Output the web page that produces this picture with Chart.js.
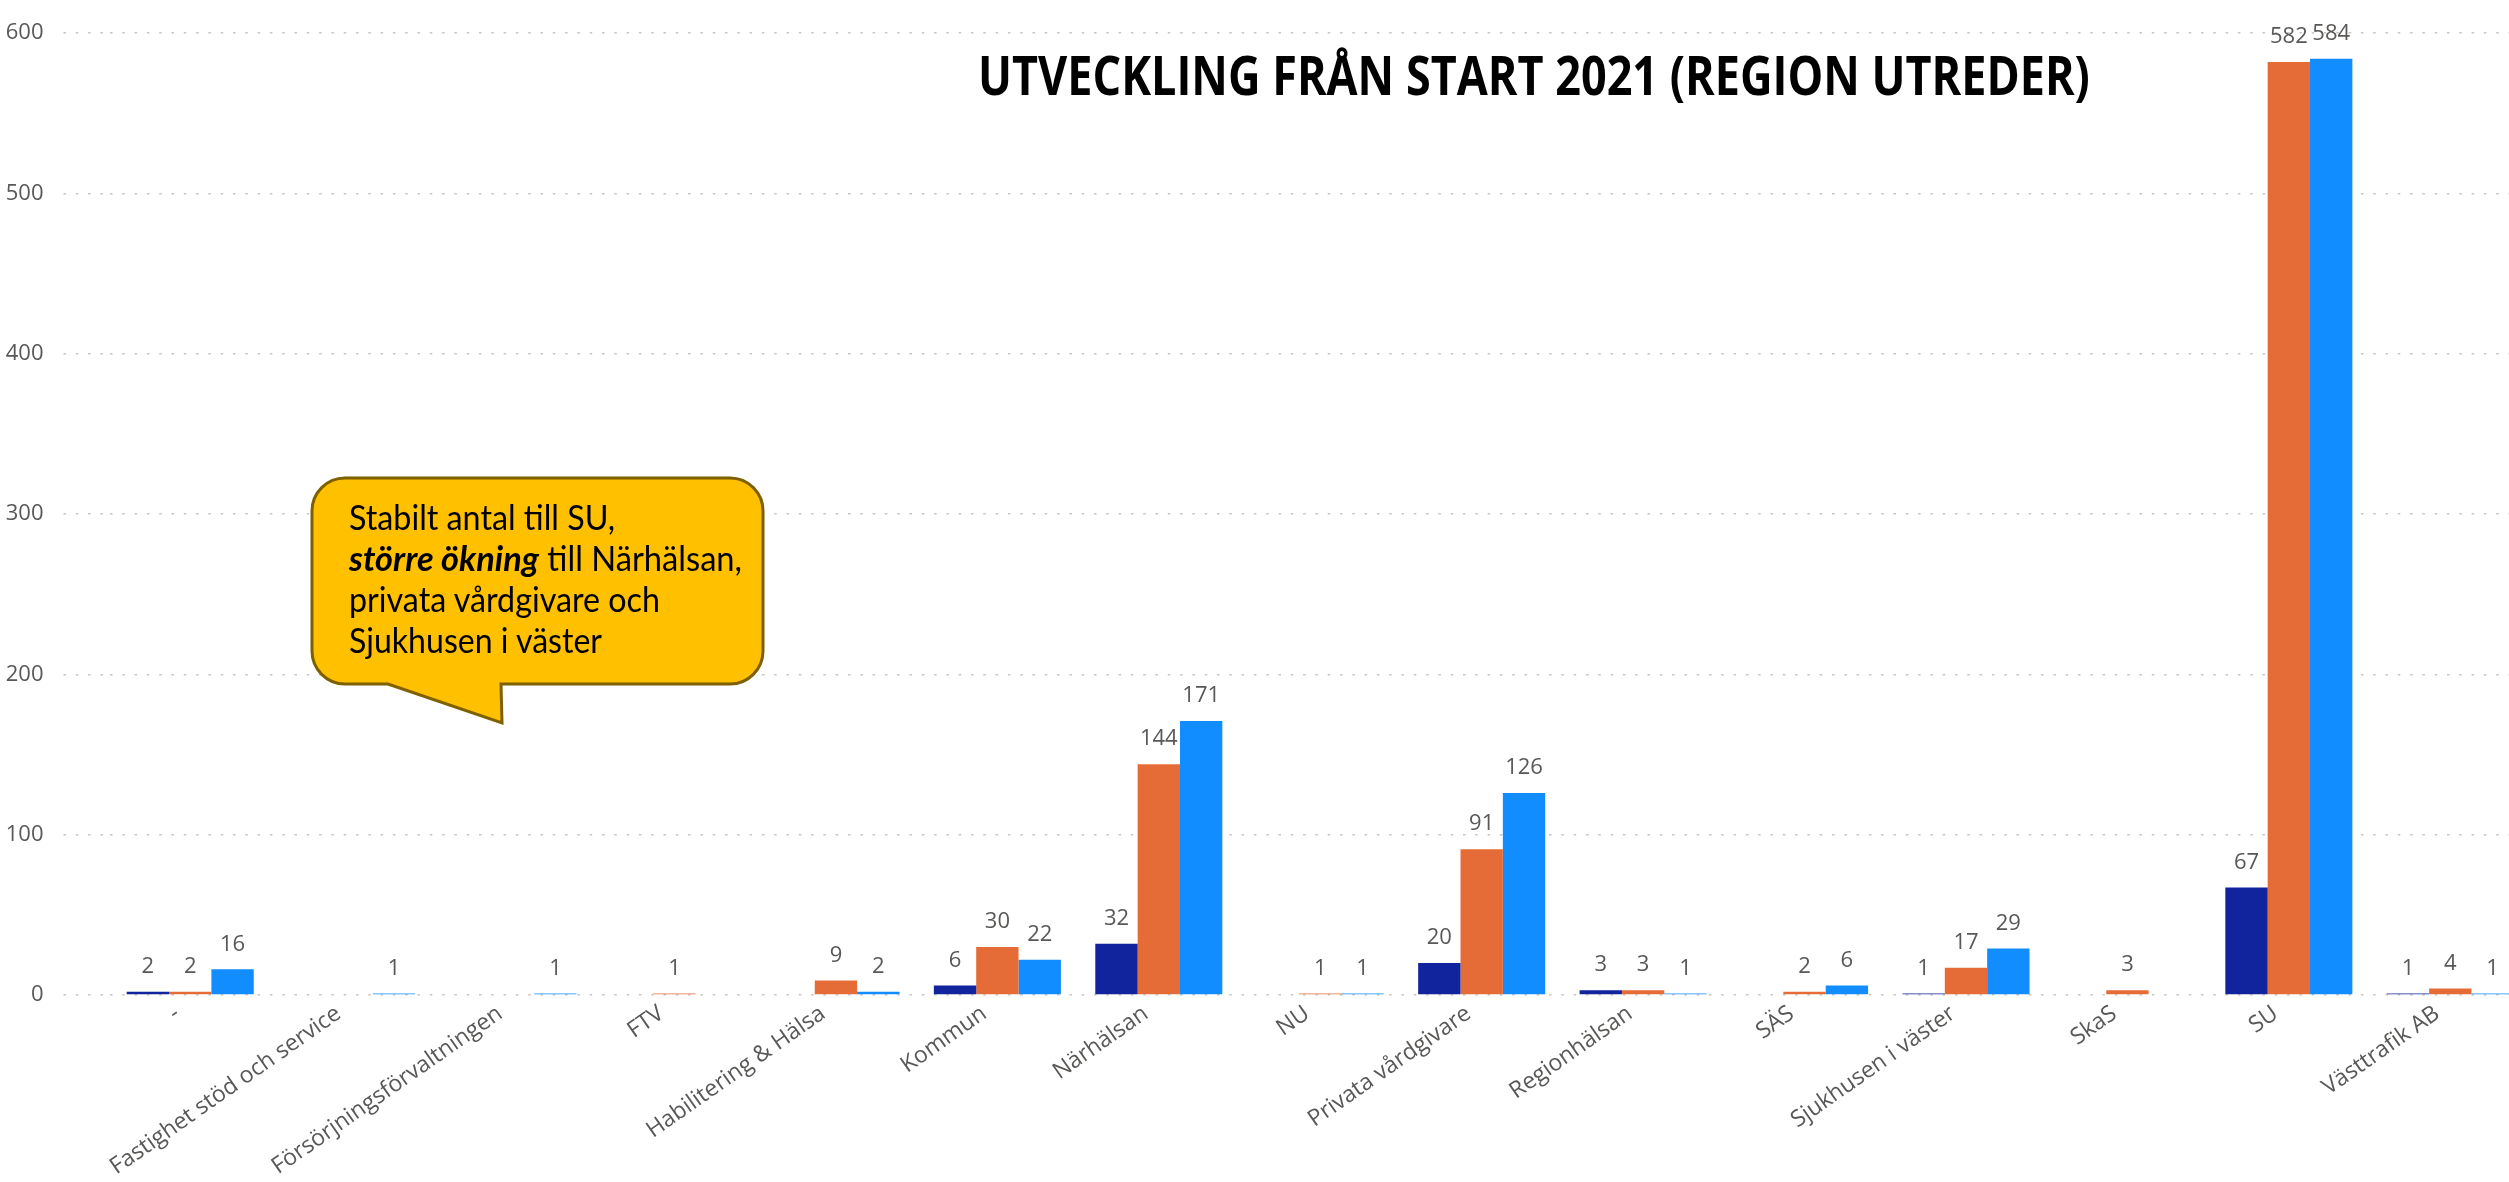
<!DOCTYPE html>
<html lang="sv">
<head>
<meta charset="utf-8">
<script src="https://cdn.jsdelivr.net/npm/chart.js@4.4.1/dist/chart.umd.min.js"></script>
<style>
  html, body { margin: 0; padding: 0; background: #fff; width: 2509px; height: 1182px; overflow: hidden; }
  #wrap { position: absolute; left: 0; top: 0; width: 2531px; height: 1182px; }
  #title { position: absolute; left: 978px; top: 48px; font: bold 53px "Open Sans", sans-serif; line-height: 1;
           color: #000; white-space: nowrap; transform-origin: 0 0; }
  #callout { position: absolute; left: 0; top: 0; }
</style>
</head>
<body>
<div id="wrap"><canvas id="chart"></canvas></div>
<div id="title">UTVECKLING FRÅN START 2021 (REGION UTREDER)</div>
<svg id="callout" width="800" height="760">
  <path d="M345,478 H730 A33,33 0 0 1 763,511 V651 A33,33 0 0 1 730,684 H501 L502,723 L388,684 H345 A33,33 0 0 1 312,651 V511 A33,33 0 0 1 345,478 Z"
        fill="#FFC000" stroke="#7F6000" stroke-width="3"/>
  <text font-family="Lato, sans-serif" font-size="35" fill="#000" lengthAdjust="spacingAndGlyphs">
    <tspan x="349" y="530" textLength="266" lengthAdjust="spacingAndGlyphs">Stabilt antal till SU,</tspan>
    <tspan x="349" y="571" textLength="190" lengthAdjust="spacingAndGlyphs" font-weight="bold" font-style="italic">större ökning</tspan><tspan textLength="203" lengthAdjust="spacingAndGlyphs"> till Närhälsan,</tspan>
    <tspan x="349" y="612" textLength="311" lengthAdjust="spacingAndGlyphs">privata vårdgivare och</tspan>
    <tspan x="349" y="653" textLength="253" lengthAdjust="spacingAndGlyphs">Sjukhusen i väster</tspan>
  </text>
</svg>
<script>
// värden
const categories = ["-", "Fastighet stöd och service", "Försörjningsförvaltningen", "FTV", "Habilitering & Hälsa",
  "Kommun", "Närhälsan", "NU", "Privata vårdgivare", "Regionhälsan", "SÄS", "Sjukhusen i väster", "SkaS", "SU", "Västtrafik AB"];
const serie1 = [2, null, null, null, null, 6, 32, null, 20, 3, null, 1, null, 67, 1];
const serie2 = [2, null, null, 1, 9, 30, 144, 1, 91, 3, 2, 17, 3, 582, 4];
const serie3 = [16, 1, 1, null, 2, 22, 171, 1, 126, 1, 6, 29, null, 584, 1];
const yTicks = [0, 100, 200, 300, 400, 500, 600];

const gray = "#5A5856";
const gridColor = "#C8C6C4";

// etiketter ovanför staplarna
const valueLabels = {
    id: "valueLabels",
    afterDatasetsDraw(chart) {
        const ctx = chart.ctx;
        ctx.save();
        ctx.font = '22px "Open Sans", sans-serif';
        ctx.fillStyle = gray;
        ctx.textAlign = "center";
        ctx.textBaseline = "middle";
        chart.data.datasets.forEach((ds, i) => {
            chart.getDatasetMeta(i).data.forEach((bar, j) => {
                const v = ds.data[j];
                if (v == null) return;
                ctx.fillText(v, bar.x, bar.y - 25);
            });
        });
        ctx.restore();
    },
};

const data = {
    labels: categories,
    datasets: [
        { label: "Serie 1", data: serie1, backgroundColor: "#12239E" },
        { label: "Serie 2", data: serie2, backgroundColor: "#E66C37" },
        { label: "Serie 3", data: serie3, backgroundColor: "#118DFF" },
    ],
};

const config = {
    type: "bar",
    data: data,
    options: {
        responsive: true,
        maintainAspectRatio: false,
        animation: false,
        layout: { padding: { top: 24, left: 0, right: 0, bottom: 0 } },
        datasets: { bar: { categoryPercentage: 0.787, barPercentage: 1 } },
        plugins: { legend: { display: false }, tooltip: { enabled: false } },
        scales: {
            x: {
                grid: { display: false, drawTicks: false },
                border: { display: false },
                ticks: {
                    autoSkip: false, minRotation: 35, maxRotation: 35, padding: 5, labelOffset: -13,
                    color: gray, font: { family: '"Open Sans", sans-serif', size: 23 },
                },
                afterFit(s) { s.height = 187; },
            },
            y: {
                min: 0, max: 600,
                afterBuildTicks(s) { s.ticks = yTicks.map(v => ({ value: v })); },
                ticks: { padding: 20, color: gray, font: { family: '"Open Sans", sans-serif', size: 22 } },
                grid: {
                    color: gridColor, lineWidth: 1.5, tickLength: 46,
                    tickColor: gridColor, tickWidth: 1.5, tickBorderDash: [2.5, 9.8],
                },
                border: { display: false, dash: [2.5, 9.8] },
                afterFit(s) { s.width = 109.5; },
            },
        },
    },
    plugins: [valueLabels],
};

const myChart = new Chart(document.getElementById("chart"), config);

const title = document.getElementById("title");
title.style.transform = "scaleX(" + (1112 / title.offsetWidth) + ")";
</script>
</body>
</html>
